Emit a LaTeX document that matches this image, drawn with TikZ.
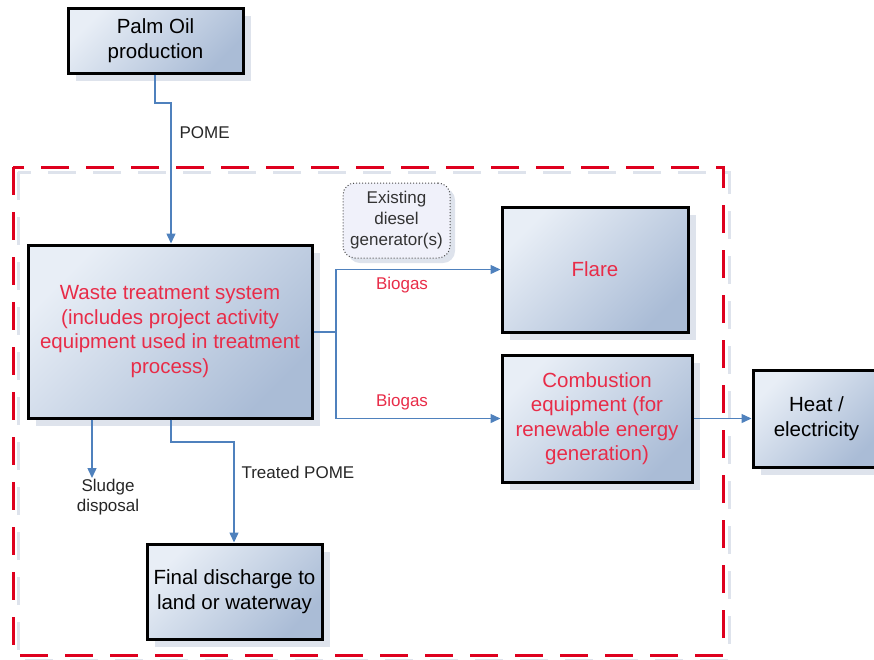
\documentclass[tikz,border=0pt]{standalone}
\usepackage{fontspec}
\setmainfont{Liberation Sans}
\usetikzlibrary{arrows.meta,shadows}
\definecolor{boxlight}{RGB}{232,238,246}
\definecolor{boxdark}{RGB}{170,188,214}
\definecolor{linkblue}{RGB}{79,129,189}
\definecolor{redtext}{RGB}{232,44,72}
\definecolor{redline}{RGB}{222,0,30}
\definecolor{shadowc}{RGB}{222,227,236}
\definecolor{dieselfill}{RGB}{240,241,250}
\tikzset{
  procbox/.style={draw=black, line width=3pt, top color=boxlight, bottom color=boxdark,
    shading angle=45, align=center, inner sep=2pt,
    font=\fontsize{20.5}{24.5}\selectfont,
    drop shadow={shadow xshift=8pt, shadow yshift=-8pt, fill=shadowc, opacity=1}},
  dieselbox/.style={draw=black!70, dotted, line width=1pt, rounded corners=12pt, fill=dieselfill,
    align=center, font=\fontsize{17}{21}\selectfont, text=black!80,
    drop shadow={shadow xshift=5pt, shadow yshift=-5pt, fill=shadowc, opacity=1}},
  link/.style={draw=linkblue, line width=1.4pt, -{Triangle[length=10pt,width=9pt]}},
  lbl/.style={font=\fontsize{17}{20.5}\selectfont, text=black!85, align=center},
  redlbl/.style={font=\fontsize{17}{20.5}\selectfont, text=redtext},
}
\begin{document}
\begin{tikzpicture}[x=1pt,y=-1pt]
\useasboundingbox (0,0) rectangle (874,659);
% dashed boundary with faint shadow
\draw[shadowc, line width=3pt, dash pattern=on 28pt off 17pt] (18,172) rectangle (729,660);
\draw[redline, line width=3pt, dash pattern=on 28pt off 17pt] (13,167) rectangle (723,655);
% boxes
\node[procbox, minimum width=175pt, minimum height=65pt] (palm) at (155.5,40.5) {Palm Oil\\production};
\node[procbox, minimum width=284pt, minimum height=173pt, text=redtext] (waste) at (170,331.5)
  {Waste treatment system\\(includes project activity\\equipment used in treatment\\process)};
\node[dieselbox, minimum width=107pt, minimum height=75pt] (diesel) at (396.5,220.5) {Existing\\diesel\\generator(s)};
\node[procbox, minimum width=186pt, minimum height=125pt, text=redtext] (flare) at (595,269.5) {Flare};
\node[procbox, minimum width=190pt, minimum height=127pt, text=redtext] (comb) at (597,418.5)
  {Combustion\\equipment (for\\renewable energy\\generation)};
\node[procbox, minimum width=127pt, minimum height=97pt] (heat) at (816.5,418.5) {Heat /\\electricity};
\node[procbox, minimum width=175pt, minimum height=95pt] (final) at (234.5,591.5) {Final discharge to\\land or waterway};
% coordinates
\coordinate (j1) at (155,103);
\coordinate (j2) at (171,103);
\coordinate (split) at (336,332);
\coordinate (sl) at (92,478);
\coordinate (t1) at (171,442);
\coordinate (t2) at (234,442);
% connectors
\draw[link] (palm.south -| j1) -- (j1) -- (j2) -- (waste.north -| j2);
\draw[draw=linkblue, line width=1.4pt] (waste.east |- split) -- (split);
\draw[link] (split) |- (flare.west);
\draw[link] (split) |- (comb.west);
\draw[link] (comb.east) -- (heat.west);
\draw[link] (waste.south -| sl) -- (sl);
\draw[link] (waste.south -| t1) -- (t1) -- (t2) -- (final.north -| t2);
% labels
\node[lbl, anchor=west] (lpome) at (176,133) {POME};
\node[redlbl] (lbio1) at (402,285) {Biogas};
\node[redlbl] (lbio2) at (402,402) {Biogas};
\node[lbl] (lsludge) at (108,497) {Sludge\\disposal};
\node[lbl, anchor=west] (ltreated) at (238,472) {Treated POME};
\end{tikzpicture}
\end{document}
